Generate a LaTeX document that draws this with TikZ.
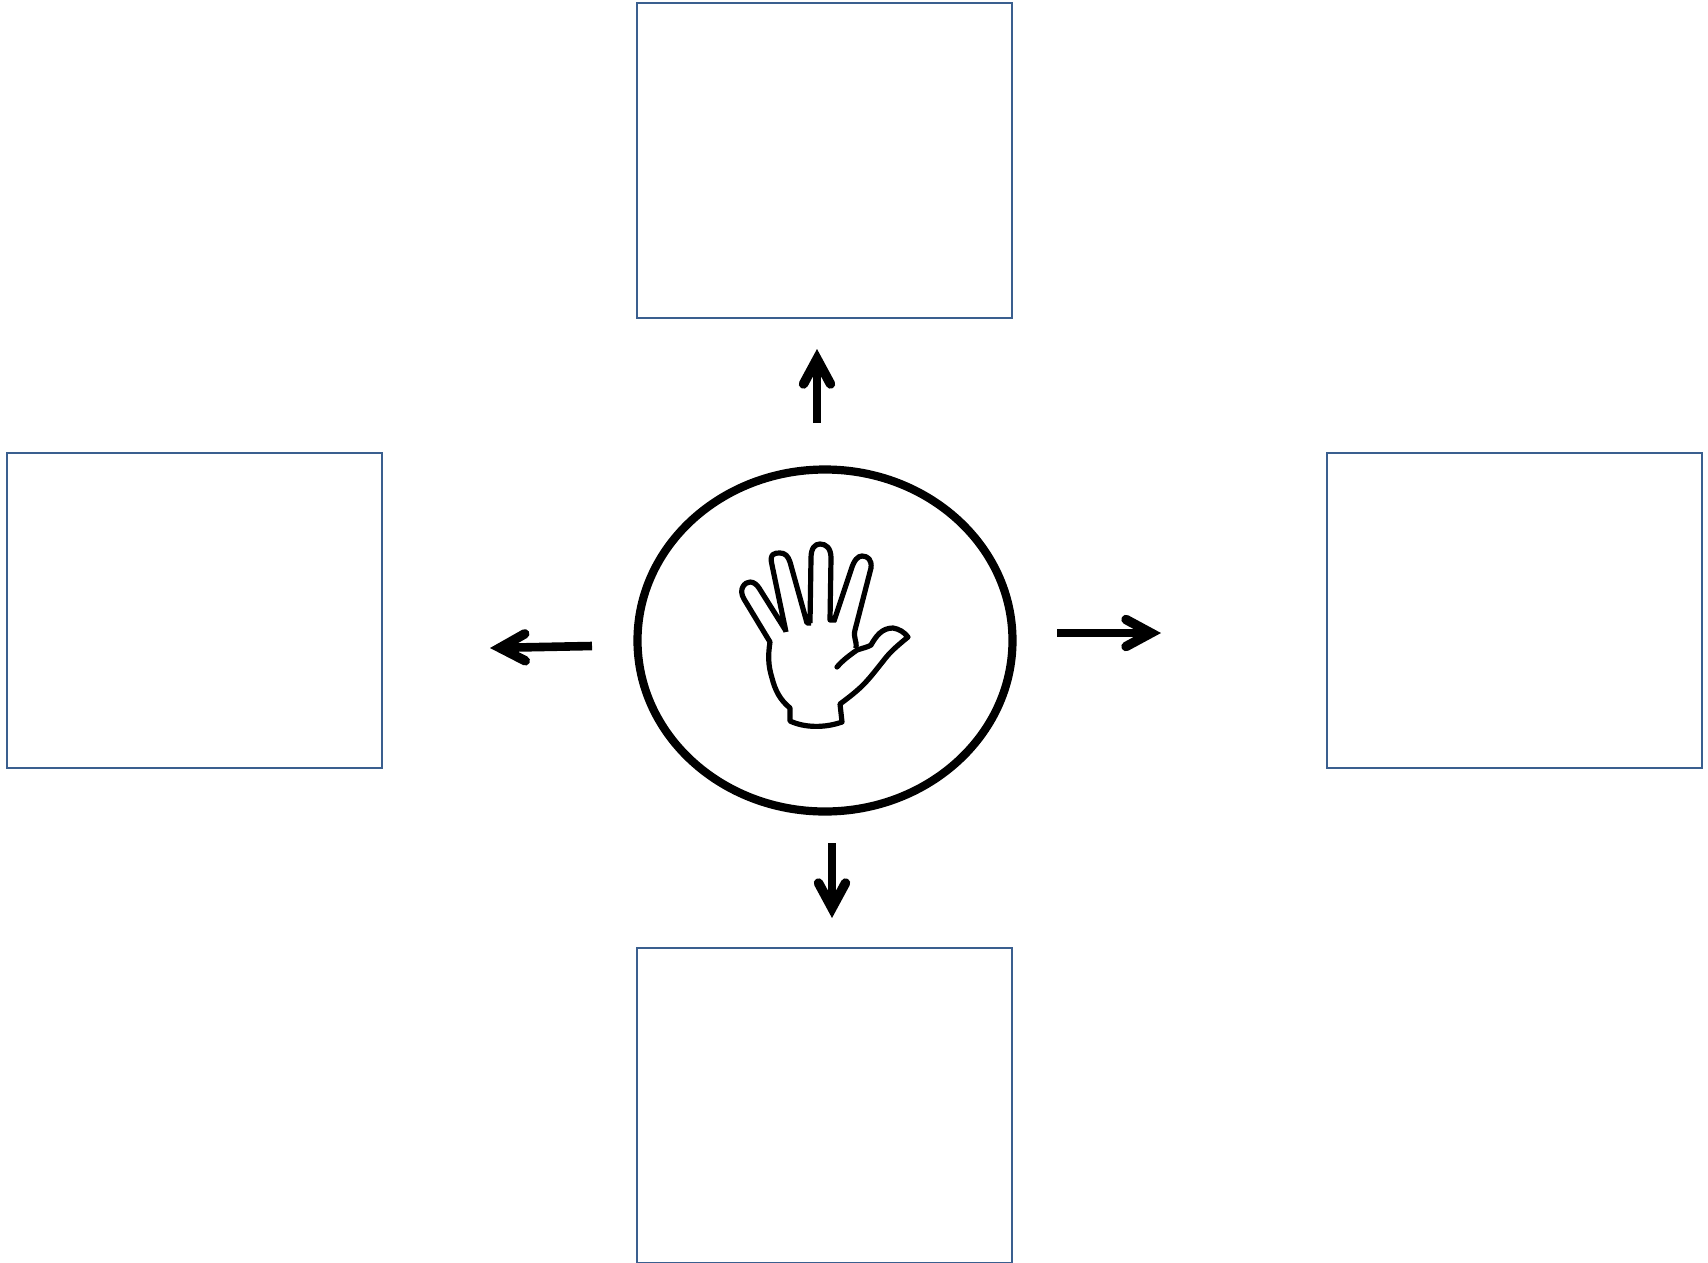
\documentclass[tikz,border=0pt]{standalone}
\usetikzlibrary{arrows.meta,shapes.geometric}
\definecolor{boxblue}{HTML}{3A5F8F}
\tikzset{
  bigbox/.style={draw=boxblue,line width=2pt,inner sep=0pt,minimum width=375pt,minimum height=315pt,fill=white},
  hub/.style={draw=black,line width=8.2pt,ellipse,inner sep=0pt,minimum width=375pt,minimum height=342pt},
  flow/.style={line width=8.6pt,-{Straight Barb[length=25pt,width=27pt,line width=9.5pt,line cap=round,line join=miter]}},
  handline/.style={line width=5.2pt,line join=round,line cap=butt}
}
\begin{document}
\begin{tikzpicture}[x=1pt,y=-1pt]
\useasboundingbox (0,0) rectangle (1708,1262);
\node[bigbox] (top) at (824.5,160.5) {};
\node[bigbox] (bottom) at (824.5,1105.5) {};
\node[bigbox] (left) at (194.5,610.5) {};
\node[bigbox] (right) at (1514.5,610.5) {};
\node[hub] (center) at (825,640.5) {};
\coordinate (a1) at (817,423); \coordinate (a2) at (817,349);
\coordinate (b1) at (832,843); \coordinate (b2) at (832,918);
\coordinate (c1) at (592,646); \coordinate (c2) at (490,648);
\coordinate (d1) at (1057,633); \coordinate (d2) at (1161,633);
\draw[flow] (a1) -- (a2);
\draw[flow] (b1) -- (b2);
\draw[flow] (c1) -- (c2);
\draw[flow] (d1) -- (d2);
\draw[handline] (770,642)
 -- (744,599)
 .. controls (738,589) and (745,582) .. (750,582)
 .. controls (754,582) and (757,585) .. (759,588)
 -- (786,631)
 (786,632) -- (772,565)
 .. controls (769,553) and (775,553) .. (780,553)
 .. controls (785,553) and (788,556) .. (790,562)
 -- (807,623) -- (811,623)
 (810,623) -- (811,558)
 .. controls (811,548) and (815,544) .. (820,544)
 .. controls (826,544) and (831,548) .. (831,558)
 -- (830,620) -- (836,620)
 (834,621) -- (851,570)
 .. controls (854,560) and (858,556) .. (862,556)
 .. controls (868,556) and (872,560) .. (871,568)
 -- (855,630)
 .. controls (853,638) and (857,640) .. (856,648);
\draw[handline,line cap=round] (837,667)
 .. controls (843,660) and (850,655) .. (857,650)
 .. controls (863,648) and (868,647) .. (871,645)
 .. controls (876,636) and (882,628) .. (893,628)
 .. controls (899,629) and (904,632) .. (908,637)
 .. controls (897,646) and (890,652) .. (884,660)
 .. controls (876,670) and (870,678) .. (863,685)
 .. controls (856,692) and (848,698) .. (840,704)
 -- (842,722)
 .. controls (825,728) and (805,728) .. (790,721)
 -- (790,708)
 .. controls (780,700) and (775,690) .. (772,678)
 .. controls (768,665) and (768,655) .. (770,642);
\end{tikzpicture}
\end{document}
